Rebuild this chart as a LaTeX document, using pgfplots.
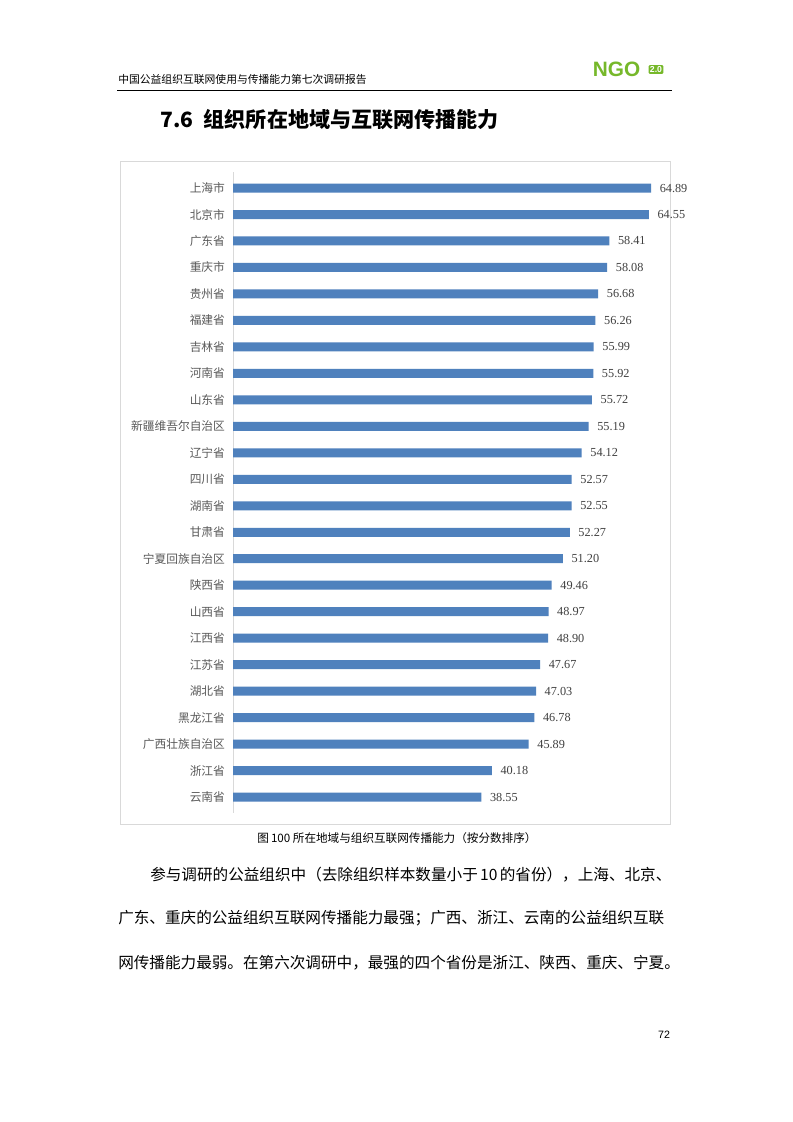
\documentclass[border=0pt]{standalone}
\usepackage{fontspec}
\setmainfont{Noto Sans CJK SC}
\newfontfamily\numfont{Liberation Serif}
\newfontfamily\latinsans{Liberation Sans}
\usepackage{pgfplots}
\pgfplotsset{compat=1.18}
\usepackage{pgfplotstable}
\definecolor{barblue}{RGB}{79,129,189}
\definecolor{lblgray}{RGB}{89,89,89}
\definecolor{numgray}{RGB}{64,64,64}
\definecolor{framegray}{RGB}{217,217,217}
\definecolor{ngogreen}{RGB}{118,184,42}

\pgfplotstableread{
idx val
0 64.89
1 64.55
2 58.41
3 58.08
4 56.68
5 56.26
6 55.99
7 55.92
8 55.72
9 55.19
10 54.12
11 52.57
12 52.55
13 52.27
14 51.20
15 49.46
16 48.97
17 48.90
18 47.67
19 47.03
20 46.78
21 45.89
22 40.18
23 38.55
}\provdata

\begin{document}
\XeTeXlinebreaklocale "zh"
\XeTeXlinebreakskip=0pt plus 3pt minus 1pt
\begin{tikzpicture}
\fill[white] (0,0) rectangle (594.75pt,-841.5pt);
% header
\node[anchor=west, inner sep=0, font=\fontsize{8.1}{10}\selectfont] at (88.5pt,-59.25pt) {中国公益组织互联网使用与传播能力第七次调研报告};
\draw[line width=0.9pt, black] (87.75pt,-67.9pt) -- (504pt,-67.9pt);
% logo
\node[anchor=west, inner sep=0, text=ngogreen, font=\latinsans\bfseries\fontsize{15.6}{16}\selectfont] at (444.5pt,-51.9pt) {NGO};
\node[fill=ngogreen, text=white, inner sep=1pt, rounded corners=0.8pt, font=\latinsans\bfseries\fontsize{6.5}{6.5}\selectfont] at (492pt,-52.1pt) {2.0};
% section title
\node[anchor=west, inner sep=0, font=\fontsize{15.8}{18}\selectfont\bfseries] at (120pt,-90pt) {7.6\hspace{0.5em}组织所在地域与互联网传播能力};
% chart frame
\draw[framegray, line width=0.75pt] (90pt,-120.75pt) rectangle (502.5pt,-618pt);
\begin{axis}[
 at={(174.75pt,-129.1pt)}, anchor=north west,
 scale only axis, width=338.25pt, height=480.6pt,
 xbar, bar width=6.75pt,
 xmin=0, xmax=70,
 ymin=-0.6, ymax=23.6, y dir=reverse,
 enlargelimits=false,
 axis x line=none,
 axis y line*=left,
 y axis line style={draw=framegray, line width=0.75pt, -},
 ytick={0,...,23},
 yticklabels={上海市,北京市,广东省,重庆市,贵州省,福建省,吉林省,河南省,山东省,新疆维吾尔自治区,辽宁省,四川省,湖南省,甘肃省,宁夏回族自治区,陕西省,山西省,江西省,江苏省,湖北省,黑龙江省,广西壮族自治区,浙江省,云南省},
 major tick length=0pt,
 yticklabel style={font=\fontsize{8.8}{10}\selectfont, text=lblgray, xshift=-2.5pt},
 clip=false,
 nodes near coords,
 nodes near coords style={font=\numfont\fontsize{9.2}{10}\selectfont, text=numgray, anchor=west, xshift=3pt},
 /pgf/number format/fixed,
 /pgf/number format/fixed zerofill,
 /pgf/number format/precision=2,
 /pgf/number format/assume math mode=true,
]
\addplot[fill=barblue, draw=none, point meta=x] table[x=val, y=idx] {\provdata};
\end{axis}
% caption
\node[font=\fontsize{8.7}{10}\selectfont] at (297.75pt,-628.5pt) {图\,100 所在地域与组织互联网传播能力（按分数排序）};
% paragraph
\node[anchor=west, inner sep=0, font=\fontsize{11.7}{14}\selectfont] at (112.5pt,-656.25pt) {\hbox to 390pt{参与调研的公益组织中（去除组织样本数量小于 10 的省份），上海、北京、}};
\node[anchor=west, inner sep=0, font=\fontsize{11.7}{14}\selectfont] at (88.5pt,-688.5pt) {\hbox to 414pt{广东、重庆的公益组织互联网传播能力最强；广西、浙江、云南的公益组织互联}};
\node[anchor=west, inner sep=0, font=\fontsize{11.7}{14}\selectfont] at (88.5pt,-722.25pt) {\hbox to 414pt{网传播能力最弱。在第六次调研中，最强的四个省份是浙江、陕西、重庆、宁夏。}};
% page number
\node[font=\latinsans\fontsize{8}{10}\selectfont] at (498pt,-776.25pt) {72};
\end{tikzpicture}
\end{document}
